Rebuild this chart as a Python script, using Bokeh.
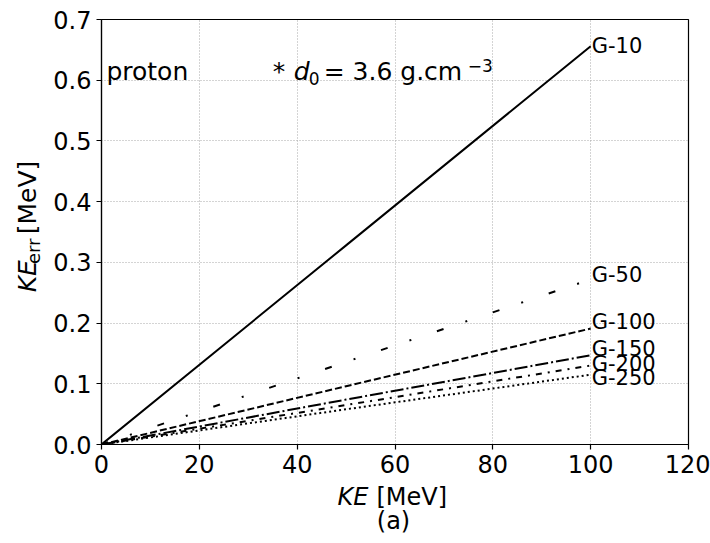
import math
from bokeh.plotting import figure
from bokeh.layouts import row, column
from bokeh.models import ColumnDataSource, FixedTicker, NumeralTickFormatter, Range1d
from bokeh.core.properties import value
from bokeh.embed import file_html
from bokeh.resources import INLINE

# ---- data ----
ke = [0, 50, 100]                      # KE [MeV]
g10 = [0.0, 0.328, 0.656]
g50 = [0.0, 0.136, 0.272]
g100 = [0.0, 0.096, 0.191]
g150 = [0.0, 0.074, 0.147]
g200 = [0.0, 0.065, 0.130]
g250 = [0.0, 0.058, 0.115]
series_names = ["G-10", "G-50", "G-100", "G-150", "G-200", "G-250"]
series_values = [g10, g50, g100, g150, g200, g250]
label_x = 100
label_y = [0.657, 0.280, 0.201, 0.157, 0.133, 0.109]
x_ticks = [0, 20, 40, 60, 80, 100, 120]
y_ticks = [0.0, 0.1, 0.2, 0.3, 0.4, 0.5, 0.6, 0.7]

# ---- styles / layout ----
dashes = ["solid", "7 23 2 27", "7 3", "13 3 2 3", "6 6 2 6", "2 3"]
FONT = "DejaVu Sans"
W, H = 710, 543
YLAB_W = 45          # strip on the left holding the y-axis title
XLAB_H = 60          # strip at the bottom holding the x-axis title and caption
MID = 0.345          # distance baseline -> text middle, in em

p = figure(width=W - YLAB_W, height=H - XLAB_H, output_backend="svg",
           toolbar_location=None, x_range=Range1d(0, 120), y_range=Range1d(0, 0.7),
           min_border_left=101 - YLAB_W, min_border_right=22, min_border_top=19,
           min_border_bottom=99 - XLAB_H)
p.background_fill_color = "white"
p.border_fill_color = "white"
p.outline_line_color = "black"
p.outline_line_width = 1.2

for ax in (p.xaxis[0], p.yaxis[0]):
    ax.axis_line_color = "black"
    ax.axis_line_width = 1.2
    ax.major_tick_line_color = "black"
    ax.major_tick_line_width = 1.2
    ax.major_tick_in = 0
    ax.major_tick_out = 5
    ax.minor_tick_line_color = None
    ax.major_label_text_font = FONT
    ax.major_label_text_font_size = "24px"
    ax.major_label_text_color = "black"
    ax.major_label_standoff = 5

p.xaxis.ticker = FixedTicker(ticks=x_ticks)
p.yaxis.ticker = FixedTicker(ticks=y_ticks)
p.yaxis.formatter = NumeralTickFormatter(format="0.0")

p.grid.grid_line_color = "#a8a8a8"
p.grid.grid_line_dash = "1 2"
p.grid.grid_line_width = 1
p.xgrid.ticker = FixedTicker(ticks=x_ticks)
p.ygrid.ticker = FixedTicker(ticks=y_ticks)

for name, vals, dash in zip(series_names, series_values, dashes):
    src = ColumnDataSource(dict(x=ke, y=vals))
    p.line("x", "y", source=src, line_color="black", line_width=2, line_dash=dash)

lab_src = ColumnDataSource(dict(x=[label_x] * len(series_names), y=label_y, t=series_names))
p.text("x", "y", text="t", source=lab_src, text_font=value(FONT),
       text_font_size=value("21px"), text_baseline="middle", text_align="left",
       text_color="black", x_offset=1)

def txt(fig, s, x, y, xo=0, yo=0, size=24, style="normal", align="left"):
    # (x, y): baseline anchor; yo: screen offset of the baseline, positive = down
    yo -= MID * size
    fig.text(x=[x], y=[y], text=[s], x_offset=xo, y_offset=yo,
             text_font=value(FONT), text_font_size=value(f"{size}px"),
             text_font_style=style, text_color="black",
             text_baseline="middle", text_align=align)

def vtxt(fig, s, x, y, size=24, style="normal"):
    # rotated text; (x, y): middle of the text line at its start
    fig.text(x=[x], y=[y], text=[s],
             text_font=value(FONT), text_font_size=value(f"{size}px"),
             text_font_style=style, text_color="black",
             text_baseline="middle", text_align="left", angle=math.pi / 2)

# in-plot annotations
txt(p, "proton", 1, 0.6, size=25)
txt(p, "*", 35, 0.6, 0, 0, size=25)
txt(p, "d", 35, 0.6, 21, 0, size=25, style="italic")
txt(p, "0", 35, 0.6, 36, 4, size=17)
txt(p, "= 3.6 g.cm", 35, 0.6, 51, 0, size=25)
txt(p, "\u22123", 35, 0.6, 195, -9, size=17)

def strip(w, h):
    f = figure(width=w, height=h, output_backend="svg", toolbar_location=None,
               x_range=Range1d(0, w), y_range=Range1d(0, h),
               x_axis_type=None, y_axis_type=None, min_border=0)
    f.outline_line_color = None
    f.background_fill_color = "white"
    f.border_fill_color = "white"
    return f

# y-axis title strip (pixel coordinates inside the strip, origin bottom-left)
ys = strip(YLAB_W, H - XLAB_H)
ph = H - XLAB_H
vtxt(ys, "KE", 27, ph - 310, size=25, style="italic")
vtxt(ys, "err", 33, ph - 278, size=18)
vtxt(ys, "[MeV]", 27, ph - 244, size=25)

# x-axis title + caption strip
xs = strip(W, XLAB_H)
txt(xs, "KE", 337, H - 505, size=24, style="italic")
txt(xs, "[MeV]", 376, H - 505, size=24)
txt(xs, "(a)", 393, H - 529, size=24, align="center")

layout = column(row(ys, p), xs)
open("out.html", "w").write(file_html(layout, INLINE))
